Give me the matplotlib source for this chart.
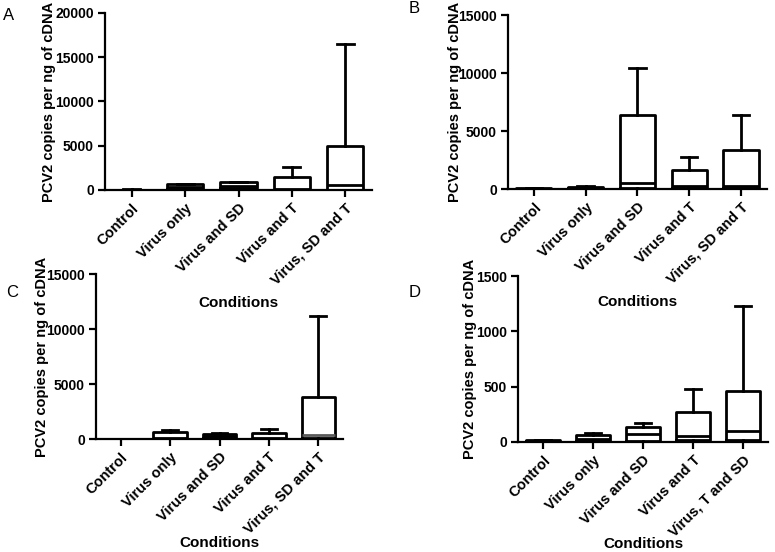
import matplotlib
matplotlib.use("Agg")
import matplotlib.pyplot as plt

plt.rcParams['font.family'] = ['Liberation Sans', 'DejaVu Sans']
plt.rcParams['font.weight'] = 'bold'

# category names
cats_abc = ['Control', 'Virus only', 'Virus and SD', 'Virus and T', 'Virus, SD and T']
cats_d = ['Control', 'Virus only', 'Virus and SD', 'Virus and T', 'Virus, T and SD']

# box statistics (min, q1, median, q3, max)
a_min = [0, 50, 50, 0, 0]
a_q1 = [0, 150, 200, 50, 50]
a_med = [20, 350, 450, 150, 560]
a_q3 = [50, 650, 850, 1500, 4950]
a_max = [60, 730, 900, 2620, 16500]

b_min = [0, 0, 0, 0, 0]
b_q1 = [10, 50, 50, 50, 50]
b_med = [30, 120, 550, 300, 250]
b_q3 = [50, 180, 6400, 1600, 3350]
b_max = [60, 230, 10430, 2760, 6400]

c_min = [0, 0, 0, 0, 0]
c_q1 = [0, 20, 50, 20, 50]
c_med = [10, 100, 250, 80, 400]
c_q3 = [30, 650, 450, 550, 3820]
c_max = [40, 800, 520, 920, 11150]

d_min = [0, 0, 0, 0, 0]
d_q1 = [5, 5, 10, 20, 15]
d_med = [10, 30, 75, 50, 95]
d_q3 = [15, 65, 135, 267, 462]
d_max = [18, 80, 171, 477, 1228]

panels = [
    # letter, cats, stats, ylim, yticks, axes rect, letter pos, xlabel y, ylabel x
    ('A', cats_abc, (a_min, a_q1, a_med, a_q3, a_max), 20000, [0, 5000, 10000, 15000, 20000],
     [0.1355, 0.6558, 0.3445, 0.3207], (0.004, 0.972), -0.60, -0.185),
    ('B', cats_abc, (b_min, b_q1, b_med, b_q3, b_max), 15000, [0, 5000, 10000, 15000],
     [0.6555, 0.6576, 0.3340, 0.3152], (0.527, 0.985), -0.61, -0.178),
    ('C', cats_abc, (c_min, c_q1, c_med, c_q3, c_max), 15000, [0, 5000, 10000, 15000],
     [0.1239, 0.2047, 0.3187, 0.2989], (0.008, 0.47), -0.59, -0.192),
    ('D', cats_d, (d_min, d_q1, d_med, d_q3, d_max), 1500, [0, 500, 1000, 1500],
     [0.6684, 0.1993, 0.3226, 0.3007], (0.527, 0.47), -0.57, -0.166),
]

fig = plt.figure(figsize=(7.75, 5.52), dpi=100)

for letter, cats, st, ytop, yticks, rect, lpos, xly, ylx in panels:
    ax = fig.add_axes(rect)
    ax.patch.set_visible(False)
    lo, q1, med, q3, hi = st
    stats = []
    for i in range(len(cats)):
        stats.append({'whislo': lo[i], 'q1': q1[i], 'med': med[i],
                      'q3': q3[i], 'whishi': hi[i]})
    lw = 2.0
    parts = ax.bxp(stats, positions=range(1, 6), widths=0.68, showfliers=False,
                   capwidths=0.32,
                   boxprops=dict(color='black', linewidth=lw),
                   whiskerprops=dict(color='black', linewidth=lw),
                   capprops=dict(color='black', linewidth=lw),
                   medianprops=dict(color='black', linewidth=lw))
    if letter == 'C':
        # last median is drawn grey in the original
        parts['medians'][-1].set_color('#5a5a5a')
    ax.set_xlim(0.5, 5.5)
    ax.set_ylim(0, ytop)
    ax.set_yticks(yticks)
    ax.set_xticks(range(1, 6))
    ax.set_xticklabels(cats, rotation=45, ha='right', rotation_mode='anchor',
                       fontsize=10.5, fontweight='bold')
    for t in ax.get_yticklabels():
        t.set_fontsize(10)
        t.set_fontweight('bold')
    for s in ['top', 'right']:
        ax.spines[s].set_visible(False)
    for s in ['left', 'bottom']:
        ax.spines[s].set_linewidth(1.6)
    ax.tick_params(width=1.6, length=5, direction='out', pad=3)
    ax.set_ylabel('PCV2 copies per ng of cDNA', fontsize=10.5, fontweight='bold')
    ax.yaxis.set_label_coords(ylx, 0.5)
    ax.set_xlabel('Conditions', fontsize=11, fontweight='bold')
    ax.xaxis.set_label_coords(0.5, xly)
    fig.text(lpos[0], lpos[1], letter, fontsize=12, fontweight='normal',
             ha='left', va='center')

plt.savefig('out.png', dpi=100)
